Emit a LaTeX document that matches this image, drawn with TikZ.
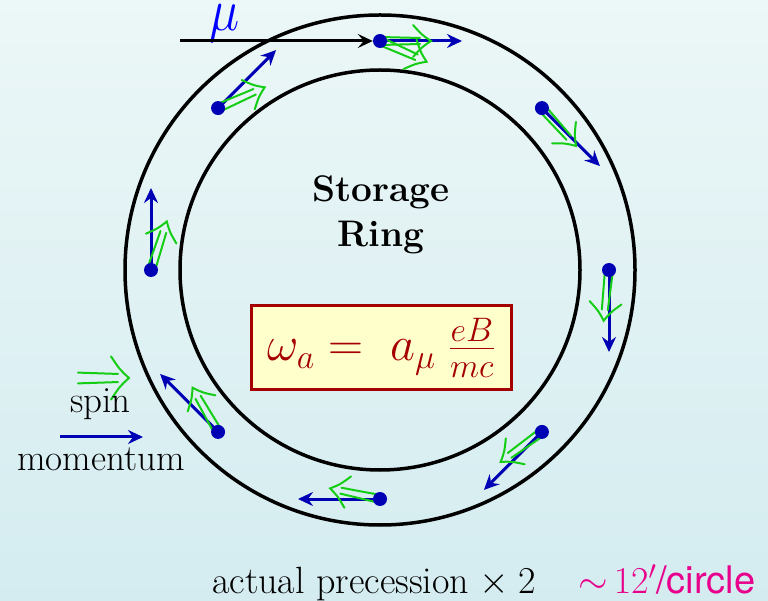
\RequirePackage{fix-cm}
\documentclass[tikz,border=0pt]{standalone}
\usepackage{fontspec}
\newfontfamily\heros{TeX Gyre Heros}
\usetikzlibrary{arrows.meta,calc}
\definecolor{bgtop}{RGB}{236,247,247}
\definecolor{bgbot}{RGB}{212,236,240}
\definecolor{momblue}{RGB}{0,0,180}
\definecolor{spingreen}{RGB}{20,205,20}
\definecolor{boxred}{RGB}{165,0,0}
\definecolor{boxfill}{RGB}{255,255,204}
\definecolor{mag}{RGB}{232,0,140}
\tikzset{
  ring/.style={line width=3.5pt},
  mom/.style={draw=momblue, line width=3pt, -{Stealth[length=15pt,width=14pt,inset=5pt]}},
  inj/.style={draw=black, line width=3pt, -{Stealth[length=15pt,width=14pt,inset=6pt]}},
  spinline/.style={draw=spingreen, line width=2pt, line cap=round},
  dot/.style={circle, fill=momblue, inner sep=0pt, minimum size=14pt},
  lbl/.style={font=\fontsize{37}{44}\selectfont},
  spinarrow/.pic={
    \draw[spinline] (0,4) -- (40,3) (0,-4) -- (40,-3);
    \draw[spinline] (33,16) .. controls (42,6) .. (51,0) .. controls (42,-6) .. (33,-16);
  }
}
\begin{document}
\begin{tikzpicture}[x=1pt,y=1pt]
\shade[top color=bgtop,bottom color=bgbot] (0,0) rectangle (768,600);
\useasboundingbox (0,0) rectangle (768,600);
\coordinate (C) at (380,330);
\draw[ring] (C) circle[radius=255];
\draw[ring] (C) circle[radius=200];

\foreach \k in {0,...,7}{
  \pgfmathsetmacro\th{90-45*\k}
  \coordinate (p\k) at ([shift={(\th:229)}]C);
}
\foreach \k in {0,...,7}{
  \pgfmathsetmacro\mo{-45*\k}
  \draw[mom] (p\k) -- ++(\mo:82) coordinate (m\k);
}
\foreach \k in {0,...,8}{
  \pgfmathtruncatemacro\kk{mod(\k,8)}
  \pic[rotate={-48*\k}] at (p\kk) {spinarrow};
}
\foreach \k in {0,...,7}{
  \node[dot] (d\k) at (p\k) {};
}

% injection
\node[text=blue, font=\fontsize{60}{70}\selectfont, anchor=base, xscale=0.85, inner sep=0pt] (mu) at (225,569) {$\mu$};
\coordinate (inj) at (180,559);
\draw[inj] (inj) -- (d0.west);

% labels
\node[lbl, font=\fontsize{37}{44}\selectfont\bfseries, anchor=base] (storage) at (381,398) {Storage};
\node[lbl, font=\fontsize{37}{44}\selectfont\bfseries, anchor=base] (ringlbl) at (381,353) {Ring};

\node[draw=boxred, line width=3pt, fill=boxfill, text=boxred, minimum width=260pt, minimum height=84pt,
      font=\fontsize{48.5}{56}\selectfont] (formula) at (381,252) {$\omega_a =\; a_\mu\; \frac{eB}{mc}$};

% legend
\coordinate (sp0) at (78,222);
\pic[yscale=1.35] at (sp0) {spinarrow};
\node[lbl, anchor=base] (spin) at (100.5,187) {spin};
\coordinate (mo0) at (60,163);
\coordinate (mo1) at (143,163);
\draw[mom] (mo0) -- (mo1);
\node[lbl, anchor=base] (momentum) at (101,130) {momentum};

% bottom
\node[anchor=base west, inner sep=0pt, font=\fontsize{38}{46}\selectfont] (actual) at (212,7) {actual precession\hspace{10pt}$\times$\hspace{10pt}2};
\node[text=mag, anchor=base west, inner sep=0pt, font=\fontsize{38}{46}\selectfont] (circ) at (578,7) {$\sim$\hspace{6pt}$12'$\heros/circle};
\end{tikzpicture}
\end{document}
